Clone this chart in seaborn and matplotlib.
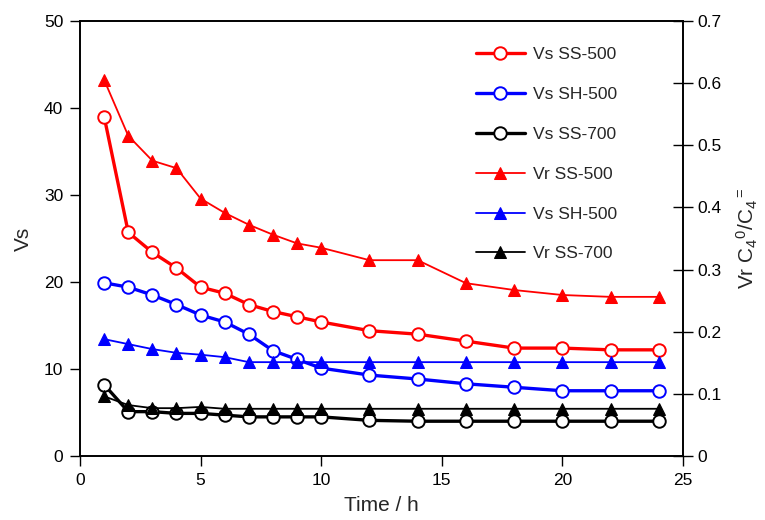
import matplotlib
matplotlib.use("Agg")
import matplotlib.pyplot as plt
import seaborn as sns
import pandas as pd

time_h = [1, 2, 3, 4, 5, 6, 7, 8, 9, 10, 12, 14, 16, 18, 20, 22, 24]

vs_ss500 = [39.0, 25.7, 23.4, 21.6, 19.4, 18.7, 17.4, 16.6, 16.0, 15.4, 14.4, 14.0, 13.2, 12.4, 12.4, 12.2, 12.2]
vs_sh500 = [19.9, 19.4, 18.5, 17.4, 16.2, 15.4, 14.0, 12.1, 11.1, 10.1, 9.3, 8.85, 8.3, 7.9, 7.5, 7.5, 7.5]
vs_ss700 = [8.2, 5.1, 5.1, 4.9, 4.9, 4.7, 4.5, 4.5, 4.5, 4.5, 4.1, 4.0, 4.0, 4.0, 4.0, 4.0, 4.0]

vr_ss500 = [0.605, 0.515, 0.475, 0.463, 0.414, 0.391, 0.372, 0.356, 0.342, 0.335, 0.315, 0.315, 0.278, 0.267, 0.259, 0.256, 0.256]
vr_sh500 = [0.188, 0.180, 0.172, 0.166, 0.163, 0.159, 0.151, 0.151, 0.151, 0.151, 0.151, 0.151, 0.151, 0.151, 0.151, 0.151, 0.151]
vr_ss700 = [0.096, 0.082, 0.077, 0.077, 0.079, 0.076, 0.076, 0.076, 0.076, 0.076, 0.076, 0.076, 0.076, 0.076, 0.076, 0.076, 0.076]

left_labels = ["Vs SS-500", "Vs SH-500", "Vs SS-700"]
right_labels = ["Vr SS-500", "Vs SH-500", "Vr SS-700"]
colors = ["#ff0000", "#0000ff", "#000000"]

sns.set_style("ticks")
plt.rcParams['font.family'] = ['Liberation Sans', 'DejaVu Sans']
plt.rcParams['mathtext.fontset'] = 'custom'
plt.rcParams['mathtext.rm'] = 'Liberation Sans'
plt.rcParams['mathtext.it'] = 'Liberation Sans'

fig = plt.figure(figsize=(7.65, 5.2), dpi=100)
ax = fig.add_axes([0.1046, 0.123, 0.7882, 0.837])
ax2 = ax.twinx()

df_left = pd.DataFrame({"t": time_h * 3,
                        "v": vs_ss500 + vs_sh500 + vs_ss700,
                        "s": [left_labels[0]] * 17 + [left_labels[1]] * 17 + [left_labels[2]] * 17})
df_right = pd.DataFrame({"t": time_h * 3,
                         "v": vr_ss500 + vr_sh500 + vr_ss700,
                         "s": ["r0"] * 17 + ["r1"] * 17 + ["r2"] * 17})

handles = []
for i, lab in enumerate(left_labels):
    sub = df_left[df_left.s == lab]
    sns.lineplot(data=sub, x="t", y="v", ax=ax, color=colors[i], lw=2.4,
                 marker="o", markersize=9, markerfacecolor="white",
                 markeredgecolor=colors[i], markeredgewidth=1.4, legend=False, zorder=3)
    handles.append(ax.lines[-1])

for i, key in enumerate(["r0", "r1", "r2"]):
    sub = df_right[df_right.s == key]
    sns.lineplot(data=sub, x="t", y="v", ax=ax2, color=colors[i], lw=1.3,
                 marker="^", markersize=8.5, markerfacecolor=colors[i],
                 markeredgecolor=colors[i], legend=False, zorder=3)
    handles.append(ax2.lines[-1])

ax.set_xlim(0, 25)
ax.set_ylim(0, 50)
ax2.set_ylim(0, 0.7)
ax.set_xticks([0, 5, 10, 15, 20, 25])
ax.set_yticks([0, 10, 20, 30, 40, 50])
ax2.set_yticks([0, 0.1, 0.2, 0.3, 0.4, 0.5, 0.6, 0.7])
ax2.set_yticklabels(["0", "0.1", "0.2", "0.3", "0.4", "0.5", "0.6", "0.7"])

for a in (ax, ax2):
    for sp in a.spines.values():
        sp.set_visible(True)
        sp.set_linewidth(1.2)
        sp.set_color("black")
ax.tick_params(direction="out", length=7, width=1.0, labelsize=12.5, colors="black", pad=5)
ax2.tick_params(direction="inout", length=14, width=1.0, labelsize=12.5, colors="black", pad=3)

ax.set_xlabel("Time / h", fontsize=15, labelpad=6)
ax.set_ylabel("Vs", fontsize=15, labelpad=8)
ax2.set_ylabel(r"Vr C$_4$$^0$/C$_4$$^=$", fontsize=15, labelpad=10)

leg = ax.legend(handles, left_labels + right_labels, loc="upper left",
                bbox_to_anchor=(0.63, 0.975), frameon=False, fontsize=12.5,
                labelspacing=1.42, handlelength=2.85, handletextpad=0.45)

fig.savefig("out.png", dpi=100)
